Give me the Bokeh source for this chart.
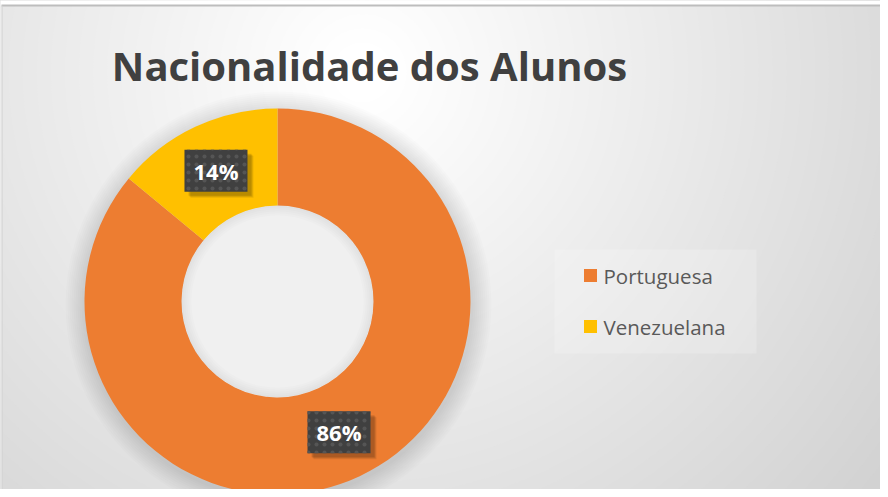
import numpy as np
from bokeh.plotting import figure
from bokeh.models import Range1d
from bokeh.core.properties import value
from bokeh.embed import file_html
from bokeh.resources import INLINE

# ---- data ----
categories = ["Portuguesa", "Venezuelana"]
shares = [86, 14]
colors = ["#ED7D31", "#FFC000"]
title_text = "Nacionalidade dos Alunos"

W, H = 880, 489
p = figure(width=W, height=H, output_backend="svg", toolbar_location=None,
           x_range=Range1d(0, W), y_range=Range1d(0, H), min_border=0)
p.axis.visible = False
p.grid.visible = False
p.outline_line_color = None
p.border_fill_color = "white"
p.background_fill_color = "#d4d4d4"

# page coords (X, Y) -> data (X-8, 497-Y)
def px(X):
    return X - 8
def py(Y):
    return 497 - Y

# radial gradient background (approx.)
gcx, gcy = px(370), py(80)
n = 50
radii = np.linspace(720, 30, n)
shade = np.linspace(0xcf, 0xff, n).astype(int)
gcols = ["#%02x%02x%02x" % (s, s, s) for s in shade]
p.circle(x=[gcx] * n, y=[gcy] * n, radius=radii, fill_color=gcols, line_color=None)

# white margins and border
p.quad(left=[0, 0], right=[W, px(9)], bottom=[py(13), 0], top=[H, H],
       fill_color="white", line_color=None)
p.segment(x0=[px(9)], y0=[py(13)], x1=[W], y1=[py(13)], line_color="#bdbdbd", line_width=2)
p.segment(x0=[px(9.5)], y0=[py(13)], x1=[px(9.5)], y1=[0], line_color="#d0d0d0", line_width=1)

# donut
cx, cy = px(285), py(309)
r_out, r_in = 193, 96
total = sum(shares)
fr = np.array(shares) / total
cum = np.concatenate([[0], np.cumsum(fr)])
starts = np.pi / 2 - 2 * np.pi * cum[:-1]
ends = np.pi / 2 - 2 * np.pi * cum[1:]

# soft outer shadow
for k in range(2, 22, 2):
    p.annulus(x=[cx + 1], y=[cy - 3], inner_radius=r_in - 2, outer_radius=r_out + k,
              fill_color="black", fill_alpha=0.012, line_color=None)
# hole
p.circle(x=[cx], y=[cy], radius=r_in, fill_color="#f0f0f0", line_color=None)
for k in range(2, 12, 2):
    p.annulus(x=[cx], y=[cy], inner_radius=r_in - k, outer_radius=r_in,
              fill_color="black", fill_alpha=0.012, line_color=None)

p.annular_wedge(x=[cx] * len(shares), y=[cy] * len(shares), inner_radius=r_in, outer_radius=r_out,
                start_angle=list(starts), end_angle=list(ends), direction="clock",
                fill_color=colors, line_color=None)

# data labels
mid = np.pi / 2 - 2 * np.pi * (cum[:-1] + cum[1:]) / 2
rm = (r_in + r_out) / 2
lx = cx + rm * np.cos(mid)
ly = cy + rm * np.sin(mid)
labels = ["%d%%" % round(f * 100) for f in fr]
for d, a in [(6, 0.08), (5, 0.1), (4, 0.12)]:
    p.rect(x=lx + d, y=ly - d, width=63, height=42, width_units="screen", height_units="screen",
           fill_color="black", fill_alpha=a, line_color=None)
p.rect(x=lx, y=ly, width=63, height=42, width_units="screen", height_units="screen",
       fill_color="#404040", line_color=None, hatch_pattern="dot", hatch_color="#555555",
       hatch_scale=8, hatch_weight=2)
p.text(x=lx, y=ly, text=labels, text_align="center", text_baseline="middle",
       text_color="white", text_font=value("Open Sans"), text_font_style="bold",
       text_font_size="22px")

# title
p.text(x=[px(377)], y=[py(73)], text=[title_text], text_align="center", text_baseline="middle",
       text_color="#404040", text_font=value("Open Sans"), text_font_style="bold",
       text_font_size="40px")

# legend
p.quad(left=[px(562)], right=[px(764)], bottom=[py(361)], top=[py(257)],
       fill_color="white", fill_alpha=0.2, line_color=None)
ly_leg = [py(283), py(334)]
p.rect(x=[px(598)] * 2, y=ly_leg, width=13, height=13, width_units="screen", height_units="screen",
       fill_color=colors, line_color=None)
p.text(x=[px(611)] * 2, y=ly_leg, text=categories, text_align="left", text_baseline="middle",
       text_color="#595959", text_font=value("Open Sans"), text_font_size="20.5px")

open("out.html", "w").write(file_html(p, INLINE))
